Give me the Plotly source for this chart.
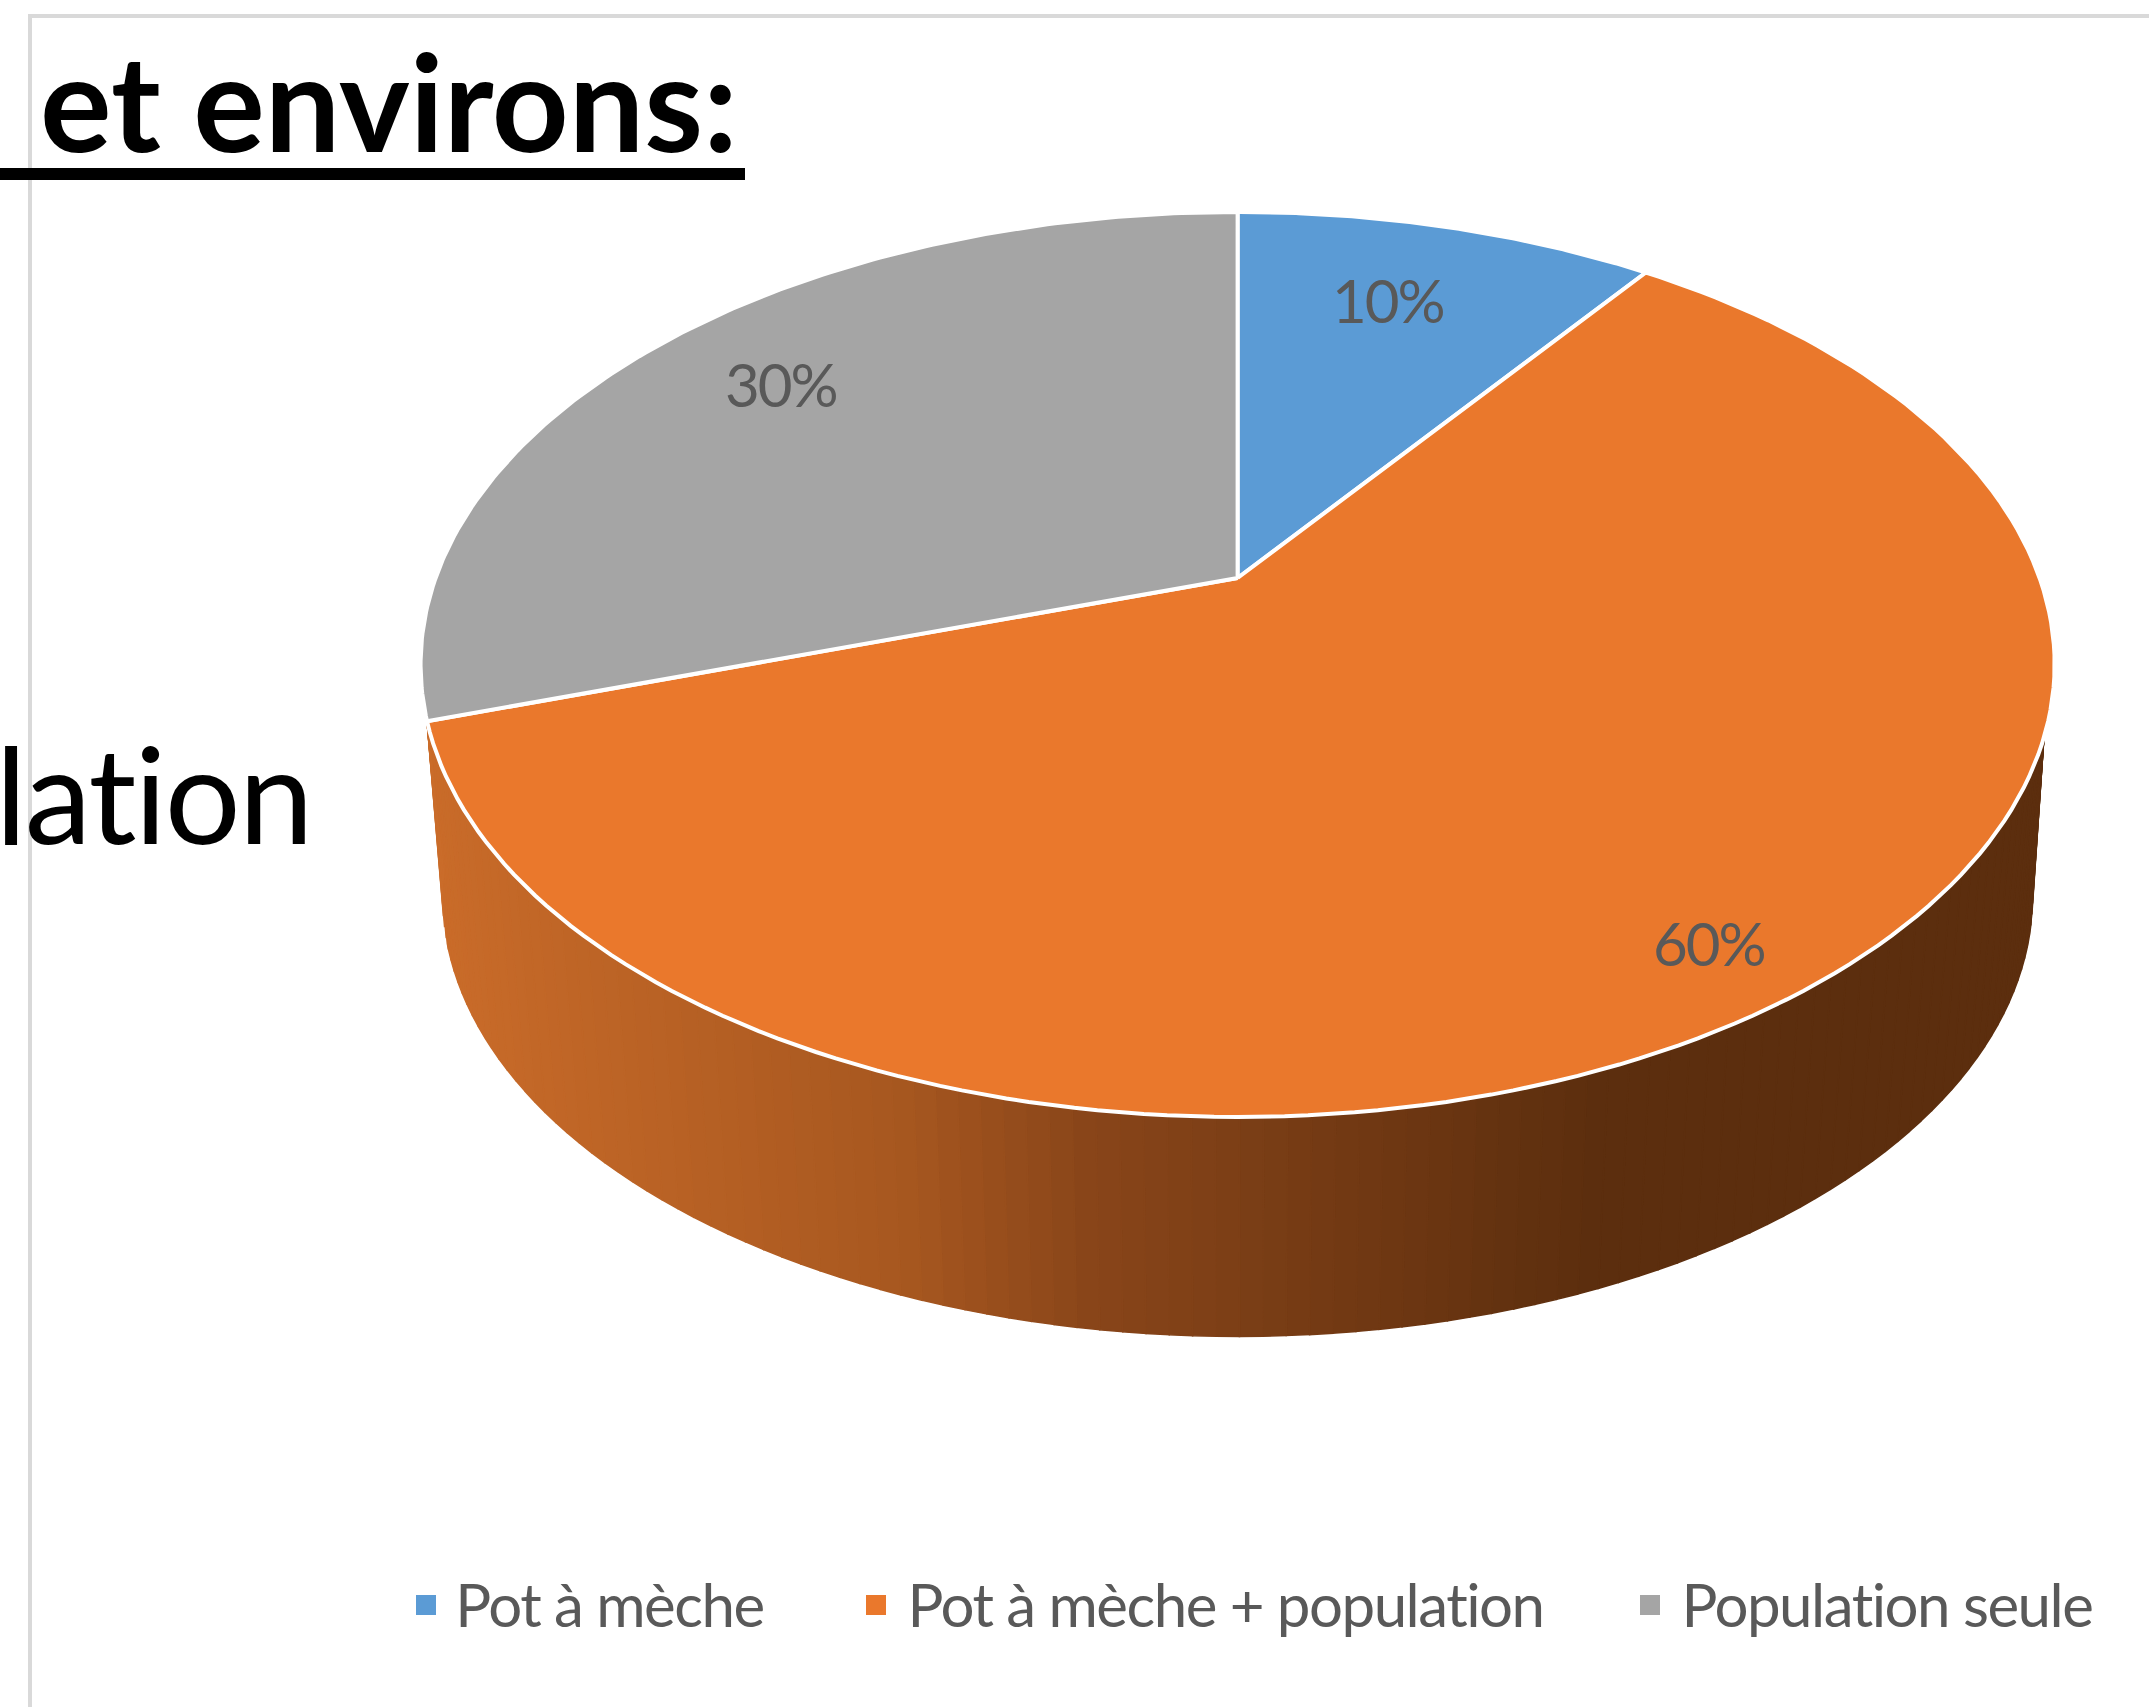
import numpy as np
import plotly.graph_objects as go

categories = ["Pot à mèche", "Pot à mèche + population", "Population seule"]
values = [10, 60, 30]
colors = ["#5b9bd5", "#ea782c", "#a5a5a5"]
labels = ["10%", "60%", "30%"]
label_xy = [(1388, 300), (1709, 943), (781, 384)]
legend_marker_x = [426, 876, 1650]
legend_text_x = [445, 887, 1667]

W, H = 2149, 1707
FONT = "Lato, Open Sans, sans-serif"

# Perspective projection of the unit disc onto the page (pixel-based axes)
X0, Y0, A, B, K = 1237.6, 578.0, 802.0, 436.0, 0.191
SCALE_LOW, Y0_LOW = 0.973, 812.0
WALL_TOP_START = np.radians(110)
WALL_LOW_START = np.radians(95)
WALL_LOW_END = np.radians(262)


def project(theta, r=1.0, scale=1.0, y0=Y0):
    ux, uy = r * np.sin(theta), -r * np.cos(theta)
    d = 1 - K * uy
    return X0 + scale * A * ux / d, y0 + scale * B * uy / d


def lerp_color(t):
    stops_t = [0.0, 0.5, 0.72, 0.80, 1.0]
    stops_c = [(0x5c, 0x2e, 0x0e), (0x5c, 0x2e, 0x0e), (0x8a, 0x46, 0x1a), (0xa8, 0x58, 0x20), (0xca, 0x6c, 0x2a)]
    return "rgb(%d,%d,%d)" % tuple(np.interp(t, stops_t, [c[i] for c in stops_c]) for i in range(3))


fig = go.Figure()

# Frame lines
fig.add_trace(go.Scatter(x=[30, 30, W], y=[H, 16, 16], mode="lines",
                         line=dict(color="#d9d9d9", width=4), showlegend=False, hoverinfo="skip"))

edges = np.radians(np.cumsum([0] + values) * 3.6)

# Side wall of the big slice: thin bands shaded from left to right
n_bands = 120
side = np.linspace(WALL_LOW_START, WALL_LOW_END, n_bands + 1)
for t0, t1 in zip(side[:-1], side[1:]):
    tm = np.linspace(t0, t1, 3)
    xa, ya = project(np.clip(tm, WALL_TOP_START, edges[2]))
    xb, yb = project(tm, scale=SCALE_LOW, y0=Y0_LOW)
    xq = np.r_[xa, xb[::-1], xa[0]]
    yq = np.r_[ya, yb[::-1], ya[0]]
    xmid = xb.mean()
    col = lerp_color(np.clip((1590 - xmid) / (1590 - 445), 0, 1) * 0.5 + 0.5)
    fig.add_trace(go.Scatter(x=xq, y=yq, mode="lines", fill="toself", fillcolor=col,
                             line=dict(color=col, width=1.5), showlegend=False, hoverinfo="skip"))

# Top faces
for i, cat in enumerate(categories):
    th = np.linspace(edges[i], edges[i + 1], 160)
    xr, yr = project(th)
    fig.add_trace(go.Scatter(x=np.r_[X0, xr, X0], y=np.r_[Y0, yr, Y0], mode="lines", fill="toself",
                             fillcolor=colors[i], line=dict(color="#ffffff", width=4),
                             name=cat, showlegend=False, hoverinfo="name"))

# Legend swatches
legend_y = [1605] * 3
for i, cat in enumerate(categories):
    fig.add_trace(go.Scatter(x=[legend_marker_x[i]], y=[legend_y[i]], mode="markers",
                             marker=dict(symbol="square", size=20, color=colors[i]),
                             showlegend=False, hoverinfo="skip"))

ann = []
for (x, y), t in zip(label_xy, labels):
    ann.append(dict(x=x, y=y, text=t, showarrow=False, xanchor="center", yanchor="middle",
                    font=dict(family=FONT, size=60, color="#595959")))
for x, t in zip(legend_text_x, categories):
    ann.append(dict(x=x, y=1604, text=t, showarrow=False, xanchor="left", yanchor="middle",
                    font=dict(family=FONT, size=60, color="#595959")))
ann.append(dict(x=740, y=100, text="<b>et environs:</b>", showarrow=False, xanchor="right", yanchor="middle",
                font=dict(family=FONT, size=134, color="#000000")))
ann.append(dict(x=321, y=792, text="lation", showarrow=False, xanchor="right", yanchor="middle",
                font=dict(family=FONT, size=134, color="#000000")))
for a in ann:
    a.update(xref="x", yref="y")

fig.update_layout(
    width=W, height=H, margin=dict(l=0, r=0, t=0, b=0), paper_bgcolor="#ffffff", plot_bgcolor="#ffffff",
    xaxis=dict(range=[0, W], visible=False, fixedrange=True),
    yaxis=dict(range=[H, 0], visible=False, fixedrange=True),
    annotations=ann,
    shapes=[dict(type="rect", xref="x", yref="y", x0=0, x1=745, y0=168, y1=180,
                 fillcolor="#000000", line=dict(width=0))],
)

post = """
document.body.style.margin='0';
document.documentElement.style.overflow='hidden';
var s=document.createElement('style');
s.textContent='.annotation-text{font-variant-ligatures:none;}';
document.head.appendChild(s);
document.querySelectorAll('.annotation-text').forEach(function(t){
  var c=t.textContent;
  if(c.indexOf('%')>=0){t.style.letterSpacing='-2px';}
  else if(c.indexOf('Pot')===0||c.indexOf('Population')===0){t.style.letterSpacing='-1.5px';}
  else if(c==='lation'){t.style.letterSpacing='-2px';}
});
"""
fig.write_html("out.html", config={"displayModeBar": False}, post_script=post)
